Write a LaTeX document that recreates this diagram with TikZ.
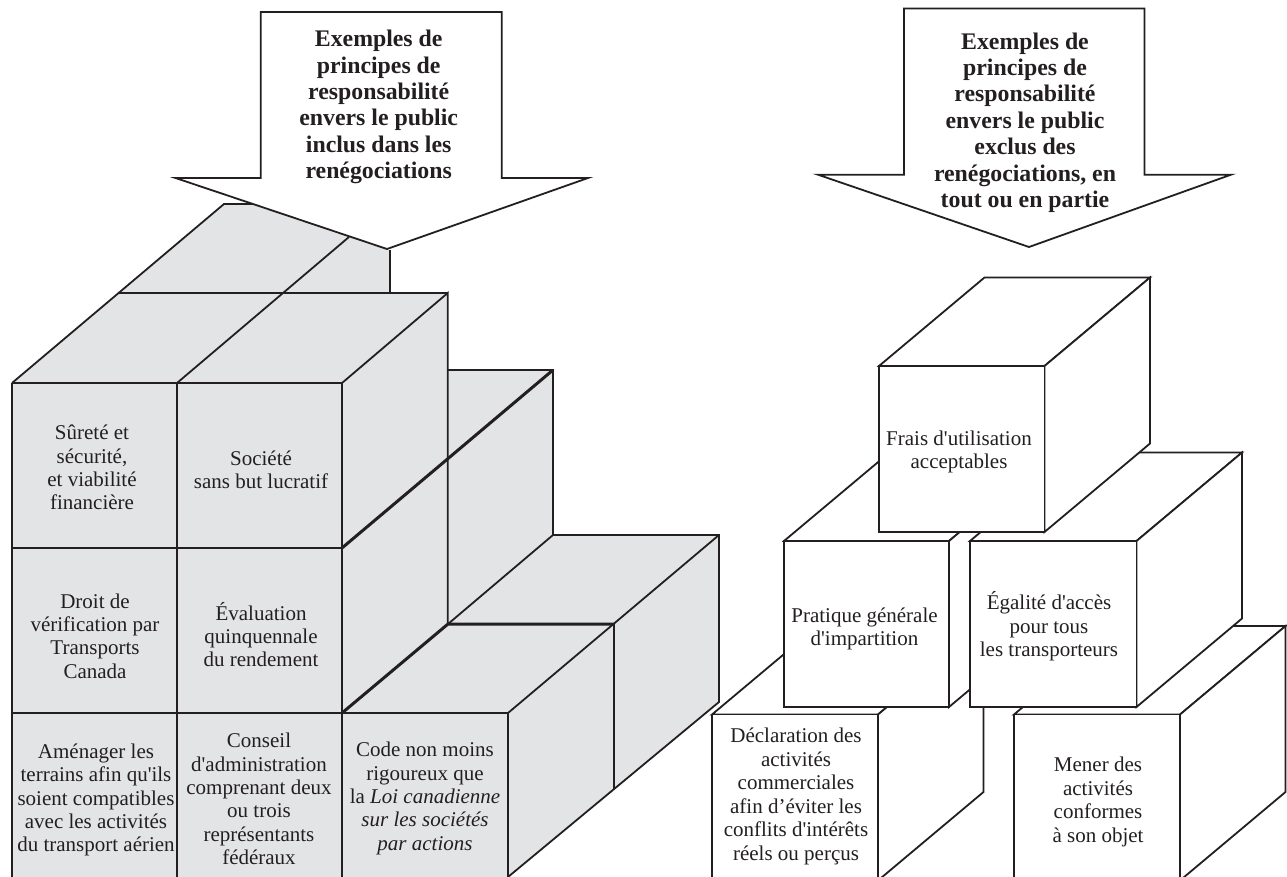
\documentclass[tikz,border=0pt]{standalone}
\usepackage{fontspec}
\setmainfont{Liberation Serif}[Ligatures=TeXOff]
\definecolor{blockgray}{HTML}{E3E4E6}
\definecolor{inkc}{HTML}{231F20}
\tikzset{
  edge/.style={draw=inkc,line width=1.8pt,line join=miter},
  heavy/.style={draw=inkc,line width=3pt},
  lab/.style={align=center,text=inkc,inner sep=0pt,font=\fontsize{21}{23.4}\selectfont},
  labr/.style={align=center,text=inkc,inner sep=0pt,font=\fontsize{21}{23.6}\selectfont},
  head/.style={align=center,text=inkc,inner sep=0pt,font=\fontsize{23.8}{26.4}\selectfont\bfseries},
  cubeface/.style={edge,fill=white},
}
\newcommand{\cubebox}[4]{% x, y, w, h
  \draw[cubeface] (#1,#2) -- ++(105.5,-88.5) -- ++(#3,0) -- ++(-105.5,88.5) -- cycle;
  \draw[cubeface] (#1+#3,#2) -- ++(105.5,-88.5) -- ++(0,#4) -- ++(-105.5,88.5) -- cycle;
  \draw[cubeface] (#1,#2) rectangle ++(#3,#4);
}
\begin{document}
\begin{tikzpicture}[x=1pt,y=-1pt]
\useasboundingbox (0,0) rectangle (1287,877);
\clip (0,0) rectangle (1287,877);
% left block
\fill[blockgray] (12,383) -- (224,204) -- (253,204) -- (389.6,250) -- (389.6,293) -- (447.7,293) -- (447.7,370) -- (553,370) -- (553,535) -- (719,535) -- (719,702) -- (508,877) -- (12,877) -- cycle;
\draw[edge] (12,383) -- (224,204) -- (253,204);
\draw[edge] (177,383) -- (349,237);
\draw[edge] (118,293) -- (447.7,293);
\draw[edge] (389.6,250) -- (389.6,293);
\draw[edge] (342,383) -- (447.7,293) -- (447.7,624);
\draw[edge] (447.7,370) -- (553,370) -- (553,535) -- (719,535) -- (719,702) -- (508,877);
\draw[edge] (12,383) -- (342,383);
\draw[edge] (12,383) -- (12,877);
\draw[edge] (177,383) -- (177,877);
\draw[edge] (342,383) -- (342,877);
\draw[edge] (508,713) -- (508,877);
\draw[edge] (12,548) -- (342,548);
\draw[edge] (12,713) -- (508,713);
\draw[heavy] (342,548) -- (553,370);
\draw[heavy] (342,713) -- (448,624) -- (613.6,624);
\draw[edge] (448,624) -- (553,535);
\draw[edge] (508,713) -- (719,535);
\draw[edge] (613.6,624) -- (613.6,789);
% left arrow
\draw[edge,fill=white] (260.7,12) -- (501.7,12) -- (501.7,178) -- (588,178) -- (387,249) -- (175.5,178) -- (260.7,178) -- cycle;
% right cubes
\cubebox{712}{714.5}{166}{166}
\cubebox{1014}{714.5}{166}{166}
\cubebox{784}{541}{165}{166}
\cubebox{970}{541}{166.5}{166}
\cubebox{879}{366}{165.5}{166}
% right arrow
\draw[edge,fill=white] (904,8.5) -- (1144.5,8.5) -- (1144.5,174.7) -- (1231,174.7) -- (1029,247) -- (818,174.7) -- (904,174.7) -- cycle;
% labels
\node[head] (h1) at (378.7,107) {Exemples de\\principes de\\responsabilité\\envers le public\\inclus dans les\\renégociations};
\node[head] (h2) at (1025,122.5) {Exemples de\\principes de\\responsabilité\\envers le public\\exclus des\\renégociations, en\\tout ou en partie};
\node[lab] (a1) at (92,467.5) {Sûreté et\\sécurité,\\et viabilité\\financière};
\node[lab] (a2) at (261,470) {Société\\sans but lucratif};
\node[lab] (b1) at (95,636) {Droit de\\vérification par\\Transports\\Canada};
\node[lab] (b2) at (261,634.5) {Évaluation\\quinquennale\\du rendement};
\node[lab] (c1) at (96,800) {Aménager les\\terrains afin qu'ils\\soient compatibles\\avec les activités\\du transport aérien};
\node[lab] (c2) at (259,799) {Conseil\\d'administration\\comprenant deux\\ou trois\\représentants\\fédéraux};
\node[lab] (c3) at (425,798.5) {Code non moins\\rigoureux que\\la \textit{Loi canadienne}\\\textit{sur les sociétés}\\\textit{par actions}};
\node[labr] (r1) at (959,452) {Frais d'utilisation\\acceptables};
\node[labr] (r2) at (864.5,629) {Pratique générale\\d'impartition};
\node[labr] (r3) at (1049,626.5) {Égalité d'accès\\pour tous\\les transporteurs};
\node[labr] (r4) at (796,796.5) {Déclaration des\\activités\\commerciales\\afin d’éviter les\\conflits d'intérêts\\réels ou perçus};
\node[labr] (r5) at (1098,802) {Mener des\\activités\\conformes\\à son objet};
\end{tikzpicture}
\end{document}
